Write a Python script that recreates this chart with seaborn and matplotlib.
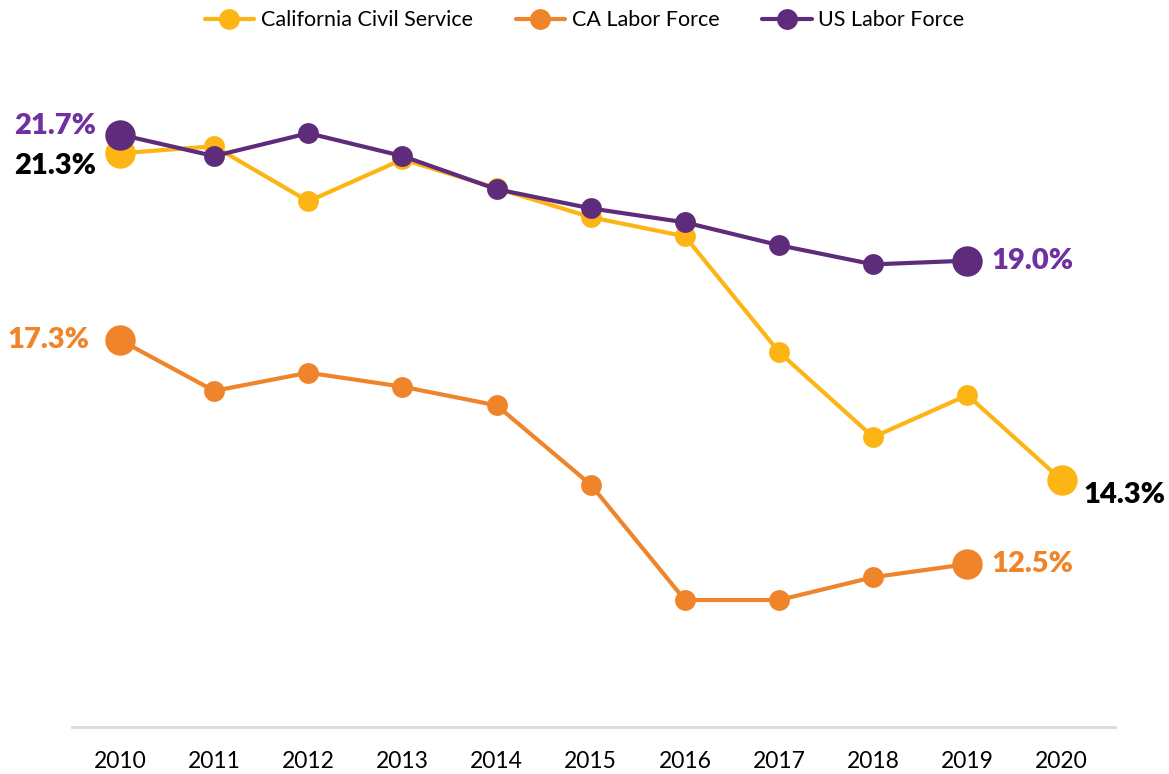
import pandas as pd
import numpy as np
import matplotlib
matplotlib.use("Agg")
import matplotlib.pyplot as plt
import seaborn as sns

# Datos (porcentaje por año)
anios = [2010, 2011, 2012, 2013, 2014, 2015, 2016, 2017, 2018, 2019, 2020]
civil_ca = [21.3, 21.45, 20.27, 21.17, 20.55, 19.93, 19.52, 17.04, 15.22, 16.12, 14.3]
fuerza_ca = [17.3, 16.21, 16.6, 16.3, 15.9, 14.2, 11.73, 11.73, 12.22, 12.5]
fuerza_us = [21.7, 21.24, 21.73, 21.24, 20.53, 20.12, 19.82, 19.33, 18.92, 19.0]
nombres = ["California Civil Service", "CA Labor Force", "US Labor Force"]

colores = {"California Civil Service": "#FDB515",
           "CA Labor Force": "#F0842B",
           "US Labor Force": "#5E2C7A"}
color_texto = {"California Civil Service": "#000000",
               "CA Labor Force": "#F0842B",
               "US Labor Force": "#7030A0"}

series = {"California Civil Service": civil_ca,
          "CA Labor Force": fuerza_ca,
          "US Labor Force": fuerza_us}

sns.set_style("white")
plt.rcParams['font.family'] = ['Lato', 'DejaVu Sans']
plt.rcParams['text.color'] = 'black'
plt.rcParams['xtick.color'] = 'black'

fig = plt.figure(figsize=(11.69, 7.74), dpi=100)
ax = fig.add_axes([0.0616, 0.0607, 0.954 - 0.0616, 0.922 - 0.0607])

# orden de dibujo: naranja, amarillo, morado encima
for nombre in ["CA Labor Force", "California Civil Service", "US Labor Force"]:
    vals = series[nombre]
    df = pd.DataFrame({"anio": anios[:len(vals)], "valor": vals})
    sns.lineplot(data=df, x="anio", y="valor", color=colores[nombre], lw=3,
                 marker="o", markersize=15, markeredgewidth=0, label=nombre, ax=ax)
    extremos = df.iloc[[0, -1]]
    sns.scatterplot(data=extremos, x="anio", y="valor", color=colores[nombre],
                    s=480, linewidth=0, zorder=5, ax=ax, legend=False)

# etiquetas de valores en los extremos
etiquetas = [
    ("US Labor Force", 0, (-17, 6), "right"),
    ("California Civil Service", 0, (-17, -9), "right"),
    ("CA Labor Force", 0, (-22, 0), "right"),
    ("US Labor Force", -1, (17, 0), "left"),
    ("CA Labor Force", -1, (17, 0), "left"),
    ("California Civil Service", -1, (16, -11), "left"),
]
for nombre, idx, off, ha in etiquetas:
    vals = series[nombre]
    v = vals[idx]
    x = anios[:len(vals)][idx]
    ax.annotate(f"{v:.1f}%", (x, v), xytext=off, textcoords="offset points",
                ha=ha, va="center", fontsize=21, fontweight="heavy",
                color=color_texto[nombre])

ax.set_xlim(2009.49, 2020.57)
ax.set_ylim(9.01, 23.29)
ax.set_xticks(anios)
ax.set_xticklabels([str(a) for a in anios], fontsize=16.5)
ax.set_yticks([])
ax.set_xlabel("")
ax.set_ylabel("")
ax.tick_params(axis="x", length=0, pad=17)
for lado in ["top", "right", "left"]:
    ax.spines[lado].set_visible(False)
ax.spines["bottom"].set_color("#D9D9D9")
ax.spines["bottom"].set_linewidth(2)

# leyenda en el orden original
handles, labels = ax.get_legend_handles_labels()
mapa = dict(zip(labels, handles))
ax.get_legend().remove()
fig.legend([mapa[n] for n in nombres], nombres, loc="upper center",
           bbox_to_anchor=(0.5, 1.012), ncol=3, frameon=False, fontsize=15.5,
           handlelength=2.3, columnspacing=2.0, handletextpad=0.3)

fig.savefig("out.png", dpi=100)
